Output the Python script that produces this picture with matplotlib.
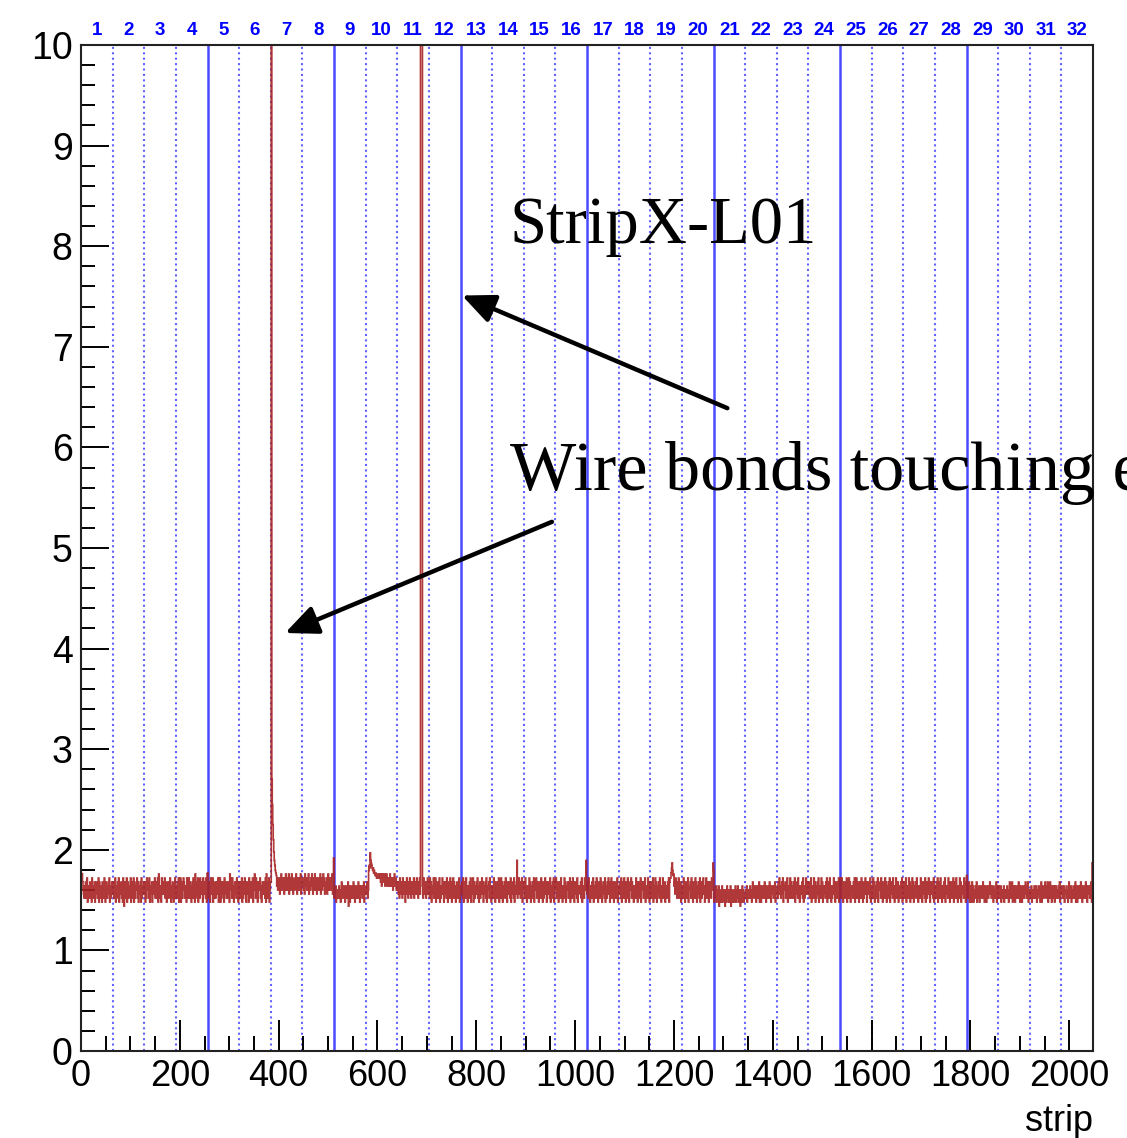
import matplotlib
matplotlib.use("Agg")
import matplotlib.pyplot as plt
import matplotlib.transforms as mtransforms
import numpy as np

# ---------------- data ----------------
n_strips = 2048
chip_size = 64
chip_labels = [str(i) for i in range(1, 33)]
x_ticks = [0, 200, 400, 600, 800, 1000, 1200, 1400, 1600, 1800, 2000]
y_ticks = list(range(0, 11))

# per-chip strip values, encoded one char per strip
digit_base, digit_step = 1.40, 0.04          # '0'..'9'
letter_base, letter_step = 1.72, 0.025       # 'a'..'k'
special = {"Z": 12.0, "Y": 2.70, "X": 2.45, "W": 2.25, "V": 2.10, "U": 1.98}

chip_strings = [
    "ca975436 47358264 53746285 36472547 63582746 35274638 52746357 48263574",
    "57364825 64738256 47362851 73648257 36458273 64827356 58372645 72836457",
    "46273856 73825647 26475836 57382946 36284757 48365274 63748526 37526483",
    "65374826 48263758 73546283 56837462 47385629 64738257 38574628 56473829",
    "c4637285 74826357 36475826 58273647 62845736 47362958 73846257 46385726",
    "57364827 36485726 74628357 47382659 63847256 75836247 46573829 63748257",
    "7ZYXWVUh fdcb6857 68475968 57846795 86579468 75968476 58697485 67859476",
    "68574968 75869476 58697485 69578467 85769486 57968475 68479586 7586947i",
    "35462453 54635247 46354625 63547136 25463547 36254635 47362546 53647254",
    "564735df ekhgfede cdcbcbab a9a89879 68978796 87968786 79678675 86976857",
    "57463857 46385746 27485736 48573647 58364758 4736584Z ZZZ63857 46375846",
    "63847265 48375826 57364825 36485726 74638527 46385627 58374625 47365826",
    "56473826 47385625 63748256 48275364 75836247 36485725 64738256 57384626",
    "46385726 57364825 63847256 47385627 56473825 64738256 47h36485 73648257",
    "57384625 46385726 63748257 58364725 47385627 36485726 57463825 64738257",
    "58364726 47385625 63847256 57364827 46385725 74638256 56473826 463857h5",
    "47385625 63748256 57384627 46385725 64738256 37485726 58364725 47365826",
    "56473825 47385627 63847256 58374625 46385726 74638257 57364826 46385725",
    "57364825 63847256 47385626 58364725 46375827 8acegdb9 67485736 58364726",
    "46385725 73648256 57384627 46385726 64738257 37485625 58364726 7463857g",
    "d2453624 53614352 46253541 35264352 43615243 52436254 36245315 42635243",
    "35462453 54635247 46354625 63547236 25463547 36254635 47362546 53647254",
    "46375846 35748265 57364825 46385736 63748256 47385625 56473826 36485745",
    "57364825 46385726 35748256 63847265 46375826 57384625 36485726 47365825",
    "a6385726 57364825 63847256 46375826 58364725 47385627 36485726 57463825",
    "46385725 63748256 57384627 46385726 64738257 47385625 58364726 46375825",
    "57364826 46385725 63847256 57384625 46385726 74638257 36485725 57463826",
    "46375825 57384626 63748256 46385725 57364826 47385625 63847256 46385726",
    "b5364725 46274625 53647254 36254635 47362546 25463547 46354625 53647236",
    "46354625 35462453 54635247 63547236 36254635 47362546 25463547 53647254",
    "35462453 46354625 54635247 25463547 63547236 47362546 36254635 53647254",
    "46354625 54635247 35462453 63547236 25463547 36254635 47362546 536472gg",
]


def decode(ch):
    if ch.isdigit():
        return digit_base + digit_step * int(ch)
    if ch in special:
        return special[ch]
    return letter_base + letter_step * (ord(ch) - ord("a"))


chip_values = []
for s in chip_strings:
    s = "".join(s.split())
    if len(s) != chip_size:
        raise ValueError(f"chip string length {len(s)}: {s}")
    chip_values.append([decode(c) for c in s])
values = np.array([v for chip in chip_values for v in chip])
edges = np.arange(n_strips + 1)

# ---------------- figure ----------------
plt.rcParams["font.family"] = ["Liberation Sans", "DejaVu Sans"]
fig = plt.figure(figsize=(11.27, 11.38), dpi=100)
ax = fig.add_axes([81 / 1127, 1 - 1051 / 1138, (1093 - 81) / 1127, (1051 - 45) / 1138])

# chip boundary lines
for k in range(1, n_strips // chip_size):
    xb = k * chip_size
    if xb % 256 == 0:
        ax.axvline(xb, color="#4a4aff", lw=1.8, zorder=1)
    else:
        ax.axvline(xb, color="#6262ff", lw=1.5, ls=(0, (1, 1.6)), zorder=1)

ax.stairs(values, edges, color="#a82222", lw=1.2, alpha=0.9, zorder=2)

ax.set_xlim(0, n_strips)
ax.set_ylim(0, 10)
ax.set_xticks(x_ticks)
ax.set_xticklabels([str(t) for t in x_ticks])
ax.set_xticks(np.arange(0, 2048, 50), minor=True)
ax.set_yticks(y_ticks)
ax.set_yticklabels([str(t) for t in y_ticks])
ax.set_yticks(np.arange(0, 10.01, 0.2), minor=True)
ax.tick_params(axis="x", which="major", direction="in", length=22, width=1.4,
               labelsize=26, pad=6, top=False)
ax.tick_params(axis="x", which="minor", direction="in", length=11, width=1.4, top=False)
ax.tick_params(axis="y", which="major", direction="in", length=20, width=1.4,
               labelsize=27, pad=6, right=False)
ax.tick_params(axis="y", which="minor", direction="in", length=10, width=1.4, right=False)
for sp in ax.spines.values():
    sp.set_linewidth(1.5)
    sp.set_color("#222222")

ax.set_xlabel("strip", fontsize=26, loc="right", labelpad=7)

# chip numbers on top
trans = mtransforms.blended_transform_factory(ax.transData, ax.transAxes)
for i, lab in enumerate(chip_labels):
    ax.text((i + 0.5) * chip_size, 1.0145, lab, transform=trans, ha="center",
            va="center", color="#0000ff", fontsize=13.5, fontweight="bold")

# annotations
serif = ["Liberation Serif", "DejaVu Serif"]
ax.text(868, 8.03, "StripX-L01", fontsize=48, family=serif, ha="left",
        va="baseline", color="black", clip_on=False)
ax.text(868, 5.58, "Wire bonds touching edge", fontsize=50.5, family=serif,
        ha="left", va="baseline", color="black", clip_on=False)
arrow = dict(arrowstyle="-|>,head_length=0.9,head_width=0.4", lw=3.2,
             color="black", shrinkA=0, shrinkB=0, mutation_scale=22)
ax.annotate("", xy=(771, 7.51), xytext=(1308, 6.39), arrowprops=arrow)
ax.annotate("", xy=(413, 4.155), xytext=(953, 5.26), arrowprops=arrow)

fig.savefig("out.png", dpi=100)
